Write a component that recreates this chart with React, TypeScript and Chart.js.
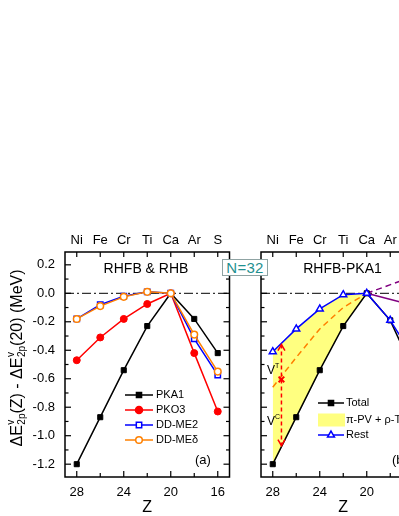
import React, { useEffect, useRef } from 'react';
import { Chart, registerables } from 'chart.js';
Chart.register(...registerables);

// ---------- data ----------
const zValues = [28, 26, 24, 22, 20, 18, 16];
const elementNames = ['Ni', 'Fe', 'Cr', 'Ti', 'Ca', 'Ar', 'S'];
const zLabelTicks = [28, 24, 20, 16];
const yLabelTicks = [0.2, 0, -0.2, -0.4, -0.6, -0.8, -1.0, -1.2];

const pka1 = [-1.2, -0.87, -0.54, -0.23, 0, -0.18, -0.42];
const pko3 = [-0.47, -0.31, -0.18, -0.075, 0, -0.42, -0.83];
const ddme2 = [-0.18, -0.08, -0.02, 0.01, 0, -0.32, -0.575];
const ddmed = [-0.18, -0.09, -0.025, 0.01, 0, -0.29, -0.55];
const seriesNamesA = ['PKA1', 'PKO3', 'DD-ME2', 'DD-MEδ'];

const zInner = [28, 26, 24, 22, 20];
const total = [-1.2, -0.87, -0.54, -0.23, 0, -0.19, -0.55];
const rest = [-0.41, -0.25, -0.11, -0.01, 0, -0.19, -0.45];
const totalInner = [-1.2, -0.87, -0.54, -0.23, 0];
const restInner = [-0.41, -0.25, -0.11, -0.01, 0];
const orangeDashed = [-0.66, -0.45, -0.25, -0.1, 0];
const zOuter = [20, 16];
const purpleDashed = [0, 0.12];
const purpleSolid = [0, -0.085];
const arrowZ = [27.26, 27.26];
const arrowVals = [-0.36, -1.07];
const crossZ = [27.26];
const crossVal = [-0.605];
const seriesNamesB = ['Total', 'π-PV + ρ-T', 'Rest'];

const FONT = '"Liberation Sans", Arial, Helvetica, sans-serif';

const pts = (xs: number[], ys: number[]) => xs.map((x, i) => ({ x, y: ys[i] }));

function line(ctx: CanvasRenderingContext2D, x1: number, y1: number, x2: number, y2: number) {
  ctx.beginPath();
  ctx.moveTo(x1, y1);
  ctx.lineTo(x2, y2);
  ctx.stroke();
}

function marker(ctx: CanvasRenderingContext2D, style: string, x: number, y: number, r: number, fill: string, stroke: string) {
  ctx.save();
  ctx.fillStyle = fill;
  ctx.strokeStyle = stroke;
  ctx.lineWidth = 1.5;
  ctx.setLineDash([]);
  ctx.beginPath();
  if (style === 'rect') {
    const s = r * Math.SQRT1_2;
    ctx.rect(x - s, y - s, 2 * s, 2 * s);
  } else if (style === 'circle') {
    ctx.arc(x, y, r, 0, Math.PI * 2);
  } else if (style === 'triangle') {
    let a = 0;
    ctx.moveTo(x + Math.sin(a) * r, y - Math.cos(a) * r);
    a += (2 * Math.PI) / 3;
    ctx.lineTo(x + Math.sin(a) * r, y - Math.cos(a) * r);
    a += (2 * Math.PI) / 3;
    ctx.lineTo(x + Math.sin(a) * r, y - Math.cos(a) * r);
    ctx.closePath();
  }
  ctx.fill();
  ctx.stroke();
  ctx.restore();
}

function frameAndTicks(chart: any) {
  const { ctx, chartArea: a, scales } = chart;
  const ys = scales.y;
  const xs = scales.x;
  ctx.save();
  ctx.strokeStyle = '#000';
  ctx.lineWidth = 1.2;
  ctx.setLineDash([]);
  for (let k = -12; k <= 2; k++) {
    const py = ys.getPixelForValue(k / 10);
    const len = k % 2 === 0 ? 6 : 3.5;
    line(ctx, a.left, py, a.left + len, py);
    line(ctx, a.right, py, a.right - len, py);
  }
  for (let z = 16; z <= 28; z += 2) {
    const px = xs.getPixelForValue(z);
    const len = z % 4 === 0 ? 6 : 4;
    line(ctx, px, a.bottom, px, a.bottom - len);
    line(ctx, px, a.top, px, a.top + 5);
  }
  ctx.lineWidth = 1.5;
  ctx.strokeRect(a.left, a.top, a.right - a.left, a.bottom - a.top);
  ctx.restore();
  // x axis title
  text(ctx, 'Z', (a.left + a.right) / 2, 288, 16, 'center');
}

function text(ctx: CanvasRenderingContext2D, s: string, x: number, y: number, size: number, align: CanvasTextAlign = 'left', color = '#000') {
  ctx.save();
  ctx.font = `${size}px ${FONT}`;
  ctx.fillStyle = color;
  ctx.textAlign = align;
  ctx.textBaseline = 'middle';
  ctx.fillText(s, x, y);
  ctx.restore();
}

function drawYTitle(ctx: CanvasRenderingContext2D, cx: number, cy: number) {
  const main = 16;
  const small = 10;
  const segs: any[] = [
    { t: 'ΔE' },
    { sup: 'v', sub: '2p' },
    { t: '(Z) - ΔE' },
    { sup: 'v', sub: '2p' },
    { t: '(20) (MeV)' },
  ];
  ctx.save();
  ctx.translate(cx, cy);
  ctx.rotate(-Math.PI / 2);
  ctx.fillStyle = '#000';
  ctx.textBaseline = 'alphabetic';
  ctx.textAlign = 'left';
  const widths = segs.map((s) => {
    if (s.t) {
      ctx.font = `${main}px ${FONT}`;
      return ctx.measureText(s.t).width;
    }
    ctx.font = `${small}px ${FONT}`;
    return Math.max(ctx.measureText(s.sup).width, ctx.measureText(s.sub).width) + 0.5;
  });
  const tot = widths.reduce((p, c) => p + c, 0);
  let x = -tot / 2;
  const base = 5.5;
  segs.forEach((s, i) => {
    if (s.t) {
      ctx.font = `${main}px ${FONT}`;
      ctx.fillText(s.t, x, base);
    } else {
      ctx.font = `${small}px ${FONT}`;
      ctx.fillText(s.sup, x + 0.5, base - 8);
      ctx.fillText(s.sub, x + 0.5, base + 3.5);
    }
    x += widths[i];
  });
  ctx.restore();
}

const decoA = {
  id: 'decoA',
  afterDatasetsDraw(chart: any) {
    const ctx = chart.ctx as CanvasRenderingContext2D;
    frameAndTicks(chart);
    text(ctx, 'RHFB & RHB', 146, 49, 14, 'center');
    text(ctx, '(a)', 195, 240, 13);
    const styles = [
      { c: '#000', s: 'rect', f: '#000', r: 3.6 },
      { c: '#ff0000', s: 'circle', f: '#ff0000', r: 3.5 },
      { c: '#0000ff', s: 'rect', f: '#fff', r: 3.8 },
      { c: '#ff8000', s: 'circle', f: '#fff', r: 3.3 },
    ];
    seriesNamesA.forEach((name, i) => {
      const y = 175 + i * 15;
      ctx.save();
      ctx.strokeStyle = styles[i].c;
      ctx.lineWidth = 1.5;
      line(ctx, 125, y, 153, y);
      ctx.restore();
      marker(ctx, styles[i].s, 139, y, styles[i].r, styles[i].f, styles[i].c);
      text(ctx, name, 156, y, 11);
    });
    drawYTitle(ctx, 16, 138);
  },
};

const decoB = {
  id: 'decoB',
  afterDatasetsDraw(chart: any) {
    const ctx = chart.ctx as CanvasRenderingContext2D;
    const xs = chart.scales.x;
    const ys = chart.scales.y;
    // arrowheads
    const px = xs.getPixelForValue(arrowZ[0]);
    const pt = ys.getPixelForValue(arrowVals[0]);
    const pb = ys.getPixelForValue(arrowVals[1]);
    ctx.save();
    ctx.strokeStyle = '#ff0000';
    ctx.lineWidth = 1.5;
    ctx.setLineDash([]);
    ctx.beginPath();
    ctx.moveTo(px - 3.5, pt + 6);
    ctx.lineTo(px, pt);
    ctx.lineTo(px + 3.5, pt + 6);
    ctx.moveTo(px - 3.5, pb - 6);
    ctx.lineTo(px, pb);
    ctx.lineTo(px + 3.5, pb - 6);
    ctx.stroke();
    ctx.restore();
    frameAndTicks(chart);
    text(ctx, 'RHFB-PKA1', 102.5, 49, 14, 'center');
    text(ctx, '(b)', 152, 240, 13);
    // V labels
    text(ctx, 'V', 27, 151, 12);
    text(ctx, 'T', 35, 146, 7);
    text(ctx, 'V', 27, 202, 12);
    text(ctx, 'C', 35, 197, 7);
    // legend
    const y0 = 183;
    ctx.save();
    ctx.strokeStyle = '#000';
    ctx.lineWidth = 1.5;
    line(ctx, 78, y0, 104, y0);
    ctx.restore();
    marker(ctx, 'rect', 91, y0, 3.6, '#000', '#000');
    text(ctx, seriesNamesB[0], 106, y0, 11);
    ctx.save();
    ctx.fillStyle = '#ffff80';
    ctx.fillRect(78, y0 + 10.5, 27, 13);
    ctx.restore();
    text(ctx, seriesNamesB[1], 106, y0 + 17, 11);
    ctx.save();
    ctx.strokeStyle = '#0000ff';
    ctx.lineWidth = 1.5;
    line(ctx, 78, y0 + 32, 104, y0 + 32);
    ctx.restore();
    marker(ctx, 'triangle', 91, y0 + 32, 4, '#fff', '#0000ff');
    text(ctx, seriesNamesB[2], 106, y0 + 32, 11);
  },
};

function makeScales(showY: boolean) {
  const tickFont = { family: FONT, size: 13 };
  const grid = { display: false, drawTicks: false, tickLength: 0 };
  return {
    x: {
      type: 'linear',
      min: 15,
      max: 29,
      reverse: true,
      position: 'bottom',
      grid,
      border: { display: false },
      ticks: { font: tickFont, color: '#000', padding: 8, autoSkip: false, maxRotation: 0, callback: (v: number) => String(v) },
      afterBuildTicks: (s: any) => {
        s.ticks = zLabelTicks.map((v) => ({ value: v }));
      },
      afterFit: (s: any) => {
        s.height = 39;
      },
    },
    xTop: {
      type: 'linear',
      min: 15,
      max: 29,
      reverse: true,
      position: 'top',
      grid,
      border: { display: false },
      ticks: {
        font: tickFont,
        color: '#000',
        padding: 4,
        autoSkip: false,
        maxRotation: 0,
        callback: (v: number) => elementNames[zValues.indexOf(v)] ?? '',
      },
      afterBuildTicks: (s: any) => {
        s.ticks = zValues.map((v) => ({ value: v }));
      },
      afterFit: (s: any) => {
        s.height = 32;
      },
    },
    y: {
      type: 'linear',
      min: -1.29,
      max: 0.29,
      display: showY,
      grid,
      border: { display: false },
      ticks: {
        font: tickFont,
        color: '#000',
        padding: 10,
        autoSkip: false,
        callback: (v: number) => (Math.abs(v) < 1e-9 ? '0.0' : v.toFixed(1)),
      },
      afterBuildTicks: (s: any) => {
        s.ticks = yLabelTicks.map((v) => ({ value: v }));
      },
      afterFit: (s: any) => {
        s.width = showY ? 65 : 0;
      },
    },
  };
}

const lineBase = { tension: 0, fill: false, pointHoverRadius: 0 };

function configA(): any {
  return {
    type: 'line',
    data: {
      datasets: [
        { ...lineBase, label: 'zero', data: pts([29, 15], [0, 0]), borderColor: '#000', borderWidth: 1, borderDash: [9, 3, 2, 3], pointRadius: 0, order: 10 },
        { ...lineBase, label: seriesNamesA[0], data: pts(zValues, pka1), borderColor: '#000', backgroundColor: '#000', borderWidth: 1.5, pointStyle: 'rect', pointRadius: 3.6, pointBorderWidth: 1, order: 4 },
        { ...lineBase, label: seriesNamesA[1], data: pts(zValues, pko3), borderColor: '#ff0000', backgroundColor: '#ff0000', borderWidth: 1.5, pointStyle: 'circle', pointRadius: 3.5, pointBorderWidth: 1, order: 3 },
        { ...lineBase, label: seriesNamesA[2], data: pts(zValues, ddme2), borderColor: '#0000ff', backgroundColor: '#fff', pointBackgroundColor: '#fff', borderWidth: 1.5, pointStyle: 'rect', pointRadius: 3.8, pointBorderWidth: 1.5, order: 2 },
        { ...lineBase, label: seriesNamesA[3], data: pts(zValues, ddmed), borderColor: '#ff8000', backgroundColor: '#fff', pointBackgroundColor: '#fff', borderWidth: 1.5, pointStyle: 'circle', pointRadius: 3.3, pointBorderWidth: 1.5, order: 1 },
      ],
    },
    options: {
      responsive: false,
      animation: false,
      devicePixelRatio: 1,
      events: [],
      layout: { padding: { left: 0, right: 10.5, top: 0, bottom: 0 } },
      plugins: { legend: { display: false }, tooltip: { enabled: false } },
      scales: makeScales(true),
    },
    plugins: [decoA],
  };
}

function configB(): any {
  return {
    type: 'line',
    data: {
      datasets: [
        { ...lineBase, label: 'fillTop', data: pts(zInner, restInner), borderColor: 'rgba(0,0,0,0)', borderWidth: 0, pointRadius: 0, fill: 1, backgroundColor: '#ffff80', order: 20 },
        { ...lineBase, label: 'fillBottom', data: pts(zInner, totalInner), borderColor: 'rgba(0,0,0,0)', borderWidth: 0, pointRadius: 0, order: 21 },
        { ...lineBase, label: 'zero', data: pts([29, 15], [0, 0]), borderColor: '#000', borderWidth: 1, borderDash: [9, 3, 2, 3], pointRadius: 0, order: 10 },
        { ...lineBase, label: 'orange', data: pts(zInner, orangeDashed), borderColor: '#ff8000', borderWidth: 1.5, borderDash: [6, 4], pointRadius: 0, order: 8 },
        { ...lineBase, label: 'purpleDashed', data: pts(zOuter, purpleDashed), borderColor: '#800080', borderWidth: 1.5, borderDash: [6, 4], pointRadius: 0, order: 7 },
        { ...lineBase, label: 'purpleSolid', data: pts(zOuter, purpleSolid), borderColor: '#800080', borderWidth: 1.5, pointRadius: 0, order: 7 },
        { ...lineBase, label: seriesNamesB[0], data: pts(zValues, total), borderColor: '#000', backgroundColor: '#000', borderWidth: 1.5, pointStyle: 'rect', pointRadius: 3.6, pointBorderWidth: 1, order: 4 },
        { ...lineBase, label: seriesNamesB[2], data: pts(zValues, rest), borderColor: '#0000ff', backgroundColor: '#fff', pointBackgroundColor: '#fff', borderWidth: 1.5, pointStyle: 'triangle', pointRadius: 4, pointBorderWidth: 1.5, order: 3 },
        { ...lineBase, label: 'arrow', data: pts(arrowZ, arrowVals), borderColor: '#ff0000', borderWidth: 1.5, borderDash: [4, 3], pointRadius: 0, order: 2 },
        { ...lineBase, label: 'cross', data: pts(crossZ, crossVal), showLine: false, pointStyle: 'crossRot', pointRadius: 4, pointBorderColor: '#ff0000', pointBorderWidth: 2, order: 1 },
      ],
    },
    options: {
      responsive: false,
      animation: false,
      devicePixelRatio: 1,
      events: [],
      layout: { padding: { left: 21, right: 14.5, top: 0, bottom: 0 } },
      plugins: { legend: { display: false }, tooltip: { enabled: false }, filler: { drawTime: 'beforeDatasetsDraw' } },
      scales: makeScales(false),
    },
    plugins: [decoB],
  };
}

export default function App() {
  const refA = useRef<HTMLCanvasElement>(null);
  const refB = useRef<HTMLCanvasElement>(null);
  useEffect(() => {
    const a = new Chart(refA.current as HTMLCanvasElement, configA());
    const b = new Chart(refB.current as HTMLCanvasElement, configB());
    return () => {
      a.destroy();
      b.destroy();
    };
  }, []);
  return (
    <div style={{ position: 'absolute', left: 0, top: 0, width: 399, height: 516, overflow: 'hidden', background: '#fff' }}>
      <canvas ref={refA} width={240} height={296} style={{ position: 'absolute', left: 0, top: 220, width: 240, height: 296 }} />
      <canvas ref={refB} width={200} height={296} style={{ position: 'absolute', left: 240, top: 220, width: 200, height: 296 }} />
      <div
        style={{
          position: 'absolute',
          left: 222,
          top: 259,
          width: 46,
          height: 17,
          boxSizing: 'border-box',
          border: '1px solid #8fa3a3',
          background: '#fff',
          color: '#1f9090',
          fontFamily: FONT,
          fontSize: 15,
          lineHeight: '15px',
          textAlign: 'center',
          letterSpacing: 0.3,
        }}
      >
        N=32
      </div>
    </div>
  );
}
